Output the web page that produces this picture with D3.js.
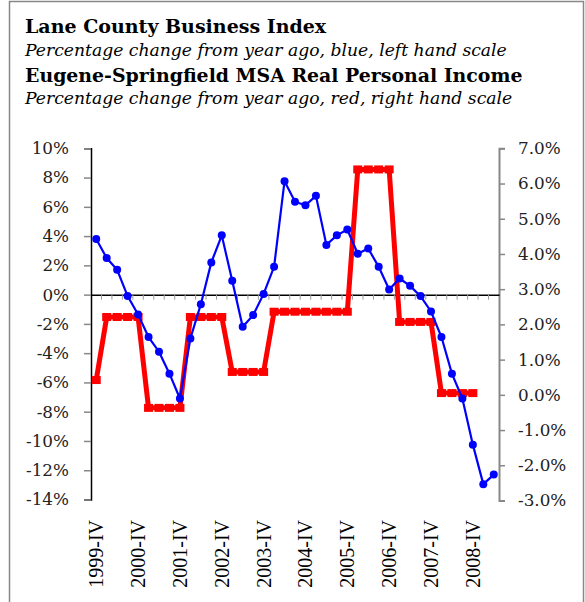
<!DOCTYPE html>
<html><head><meta charset="utf-8">
<script src="https://cdn.jsdelivr.net/npm/d3@7"></script>
<style>
html,body{margin:0;padding:0;background:#fff;}
svg{display:block;}
</style></head>
<body>
<svg id="chart" width="585" height="602"></svg>
<script>
const quarters = [
 "1999-IV","2000-I","2000-II","2000-III","2000-IV","2001-I","2001-II","2001-III","2001-IV",
 "2002-I","2002-II","2002-III","2002-IV","2003-I","2003-II","2003-III","2003-IV",
 "2004-I","2004-II","2004-III","2004-IV","2005-I","2005-II","2005-III","2005-IV",
 "2006-I","2006-II","2006-III","2006-IV","2007-I","2007-II","2007-III","2007-IV",
 "2008-I","2008-II","2008-III","2008-IV","2009-I","2009-II"];
const businessIndex = [3.8, 2.5, 1.7, -0.1, -1.35, -2.9, -3.9, -5.4, -7.1, -3.0, -0.65, 2.2, 4.05,
 0.95, -2.2, -1.4, 0.05, 1.9, 7.75, 6.35, 6.1, 6.75, 3.4, 4.05, 4.45, 2.8, 3.15, 1.9, 0.35,
 1.1, 0.6, -0.1, -1.15, -2.9, -5.4, -7.1, -10.25, -12.95, -12.3];
const personalIncome = [0.42, 2.21, 2.21, 2.21, 2.21, -0.37, -0.37, -0.37, -0.37,
 2.21, 2.21, 2.21, 2.21, 0.65, 0.65, 0.65, 0.65,
 2.36, 2.36, 2.36, 2.36, 2.36, 2.36, 2.36, 2.36,
 6.4, 6.4, 6.4, 6.4, 2.07, 2.07, 2.07, 2.07, 0.05, 0.05, 0.05, 0.05];
const leftTicks = [10, 8, 6, 4, 2, 0, -2, -4, -6, -8, -10, -12, -14];
const rightTicks = [7, 6, 5, 4, 3, 2, 1, 0, -1, -2, -3];
const titles = ["Lane County Business Index", "Percentage change from year ago, blue, left hand scale",
 "Eugene-Springfield MSA Real Personal Income", "Percentage change from year ago, red, right hand scale"];

const svg = d3.select("#chart");
const serif = "'DejaVu Serif', serif";

svg.append("rect").attr("x", 9.5).attr("y", 1.5).attr("width", 574).attr("height", 610)
  .attr("fill", "none").attr("stroke", "#888").attr("stroke-width", 1.5);

const tg = svg.append("g").attr("font-family", serif).attr("fill", "#000");
tg.append("text").attr("x", 25).attr("y", 33).attr("font-size", 19).attr("font-weight", "bold").text(titles[0]);
tg.append("text").attr("x", 25).attr("y", 56).attr("font-size", 17.2).attr("font-style", "italic").text(titles[1]);
tg.append("text").attr("x", 25).attr("y", 82).attr("font-size", 18.9).attr("font-weight", "bold").text(titles[2]);
tg.append("text").attr("x", 25).attr("y", 104).attr("font-size", 17.2).attr("font-style", "italic").text(titles[3]);

const x = d3.scaleBand().domain(quarters).range([91, 499]).padding(0);
const yL = d3.scaleLinear().domain([-14, 10]).range([499.5, 148.3]);
const yR = d3.scaleLinear().domain([-3, 7]).range([500.5, 148.3]);
const cx = d => x(d) + x.bandwidth() / 2;

// left axis
const la = svg.append("g").attr("transform", "translate(91,0)")
  .call(d3.axisLeft(yL).tickValues(leftTicks).tickSize(7).tickPadding(15).tickFormat(d => d + "%"));
la.select(".domain").attr("stroke", "#000").attr("stroke-width", 1.5);
la.selectAll(".tick line").attr("stroke", "#888").attr("stroke-width", 1.5);
la.selectAll(".tick text").attr("font-family", serif).attr("font-size", 16.8).attr("fill", "#222");

// right axis
const ra = svg.append("g").attr("transform", "translate(499,0)")
  .call(d3.axisRight(yR).tickValues(rightTicks).tickSize(6).tickPadding(13).tickFormat(d => d.toFixed(1) + "%"));
ra.select(".domain").attr("stroke", "#888").attr("stroke-width", 2);
ra.selectAll(".tick line").attr("stroke", "#888").attr("stroke-width", 1.5);
ra.selectAll(".tick text").attr("font-family", serif).attr("font-size", 16.8).attr("fill", "#222");

// zero line with category ticks
const za = svg.append("g").attr("transform", `translate(0,${yL(0)})`)
  .call(d3.axisBottom(x).tickSize(0).tickFormat(""));
za.select(".domain").attr("stroke", "#000").attr("stroke-width", 1.5);
za.selectAll(".tick").remove();
svg.append("g").selectAll("line").data(quarters.slice(1)).join("line")
  .attr("x1", d => x(d)).attr("x2", d => x(d))
  .attr("y1", yL(0)).attr("y2", yL(0) + 5)
  .attr("stroke", "#999").attr("stroke-width", 1);

// x labels
svg.append("g").selectAll("text").data(quarters.filter(q => q.endsWith("-IV"))).join("text")
  .attr("transform", d => `translate(${cx(d)},520) rotate(-90)`)
  .attr("text-anchor", "end").attr("dy", "0.35em")
  .attr("font-family", "'Liberation Serif', serif").attr("font-size", 20).attr("fill", "#000")
  .text(d => d);

// red series
const redData = personalIncome.map((v, i) => ({q: quarters[i], v}));
svg.append("path").datum(redData)
  .attr("d", d3.line().x(d => cx(d.q)).y(d => yR(d.v)))
  .attr("fill", "none").attr("stroke", "#ff0000").attr("stroke-width", 5).attr("stroke-linejoin", "round");
svg.append("g").selectAll("rect").data(redData).join("rect")
  .attr("x", d => cx(d.q) - 4.5).attr("y", d => yR(d.v) - 4).attr("width", 9).attr("height", 8)
  .attr("fill", "#ff0000");

// blue series
const blueData = businessIndex.map((v, i) => ({q: quarters[i], v}));
svg.append("path").datum(blueData)
  .attr("d", d3.line().x(d => cx(d.q)).y(d => yL(d.v)))
  .attr("fill", "none").attr("stroke", "#0000ff").attr("stroke-width", 2.2);
svg.append("g").selectAll("circle").data(blueData).join("circle")
  .attr("cx", d => cx(d.q)).attr("cy", d => yL(d.v)).attr("r", 4).attr("fill", "#0000ff");
</script>
</body></html>
